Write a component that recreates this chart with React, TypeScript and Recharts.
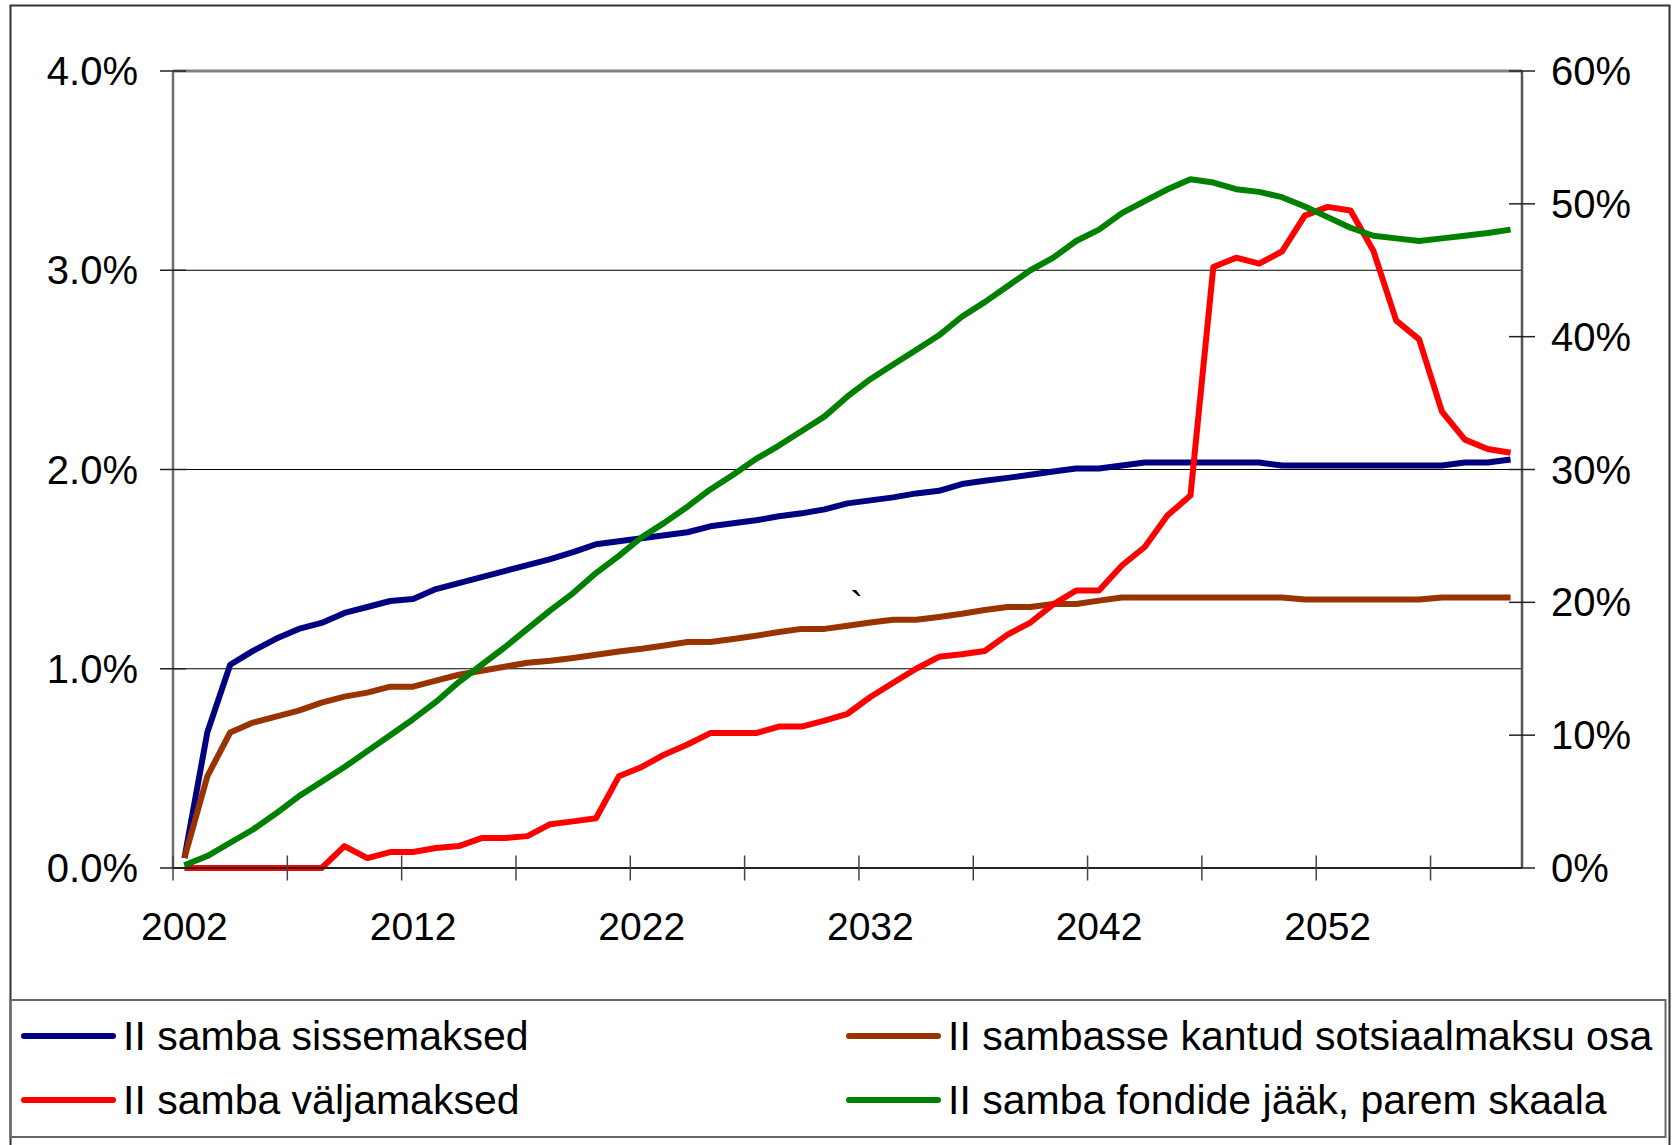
import React from 'react';
import { LineChart, Line, XAxis, YAxis, CartesianGrid, ReferenceLine } from 'recharts';

// years on the category axis
const years = [
  2002, 2003, 2004, 2005, 2006, 2007, 2008, 2009, 2010, 2011,
  2012, 2013, 2014, 2015, 2016, 2017, 2018, 2019, 2020, 2021,
  2022, 2023, 2024, 2025, 2026, 2027, 2028, 2029, 2030, 2031,
  2032, 2033, 2034, 2035, 2036, 2037, 2038, 2039, 2040, 2041,
  2042, 2043, 2044, 2045, 2046, 2047, 2048, 2049, 2050, 2051,
  2052, 2053, 2054, 2055, 2056, 2057, 2058, 2059, 2060,
];

// % of GDP, left scale
const sissemaksed = [
  0.05, 0.68, 1.02, 1.09, 1.15, 1.2, 1.23, 1.28, 1.31, 1.34,
  1.35, 1.4, 1.43, 1.46, 1.49, 1.52, 1.55, 1.585, 1.625, 1.64,
  1.655, 1.67, 1.685, 1.715, 1.73, 1.745, 1.765, 1.78, 1.8, 1.83,
  1.845, 1.86, 1.88, 1.893, 1.927, 1.944, 1.958, 1.974, 1.99, 2.005,
  2.005, 2.02, 2.035, 2.035, 2.035, 2.035, 2.035, 2.035, 2.02, 2.02,
  2.02, 2.02, 2.02, 2.02, 2.02, 2.02, 2.035, 2.035, 2.05,
];
const sotsiaalmaks = [
  0.05, 0.46, 0.68, 0.73, 0.76, 0.79, 0.83, 0.86, 0.88, 0.91,
  0.91, 0.94, 0.97, 0.99, 1.01, 1.03, 1.04, 1.054, 1.07, 1.087,
  1.1, 1.117, 1.134, 1.134, 1.149, 1.166, 1.184, 1.2, 1.2, 1.216,
  1.232, 1.246, 1.246, 1.26, 1.276, 1.295, 1.31, 1.31, 1.325, 1.325,
  1.342, 1.358, 1.358, 1.358, 1.358, 1.358, 1.358, 1.358, 1.358, 1.347,
  1.347, 1.347, 1.347, 1.347, 1.347, 1.358, 1.358, 1.358, 1.358,
];
const valjamaksed = [
  0, 0, 0, 0, 0, 0, 0, 0.11, 0.05, 0.08,
  0.08, 0.1, 0.11, 0.15, 0.15, 0.16, 0.22, 0.234, 0.25, 0.46,
  0.507, 0.57, 0.62, 0.677, 0.677, 0.677, 0.71, 0.71, 0.74, 0.774,
  0.858, 0.93, 1.0, 1.06, 1.073, 1.089, 1.171, 1.232, 1.323, 1.393,
  1.393, 1.518, 1.611, 1.77, 1.869, 3.016, 3.063, 3.033, 3.094, 3.274,
  3.318, 3.3, 3.098, 2.747, 2.653, 2.29, 2.15, 2.103, 2.084,
];
// right scale
const fondideJaak = [
  0.2, 0.9, 1.9, 2.9, 4.1, 5.4, 6.5, 7.6, 8.8, 10.0,
  11.2, 12.5, 14.0, 15.3, 16.6, 18.0, 19.4, 20.7, 22.2, 23.5,
  24.9, 26.0, 27.2, 28.5, 29.6, 30.8, 31.8, 32.9, 34.0, 35.5,
  36.8, 37.9, 39.0, 40.1, 41.5, 42.6, 43.8, 45.0, 45.95, 47.2,
  48.06, 49.3, 50.2, 51.1, 51.85, 51.6, 51.1, 50.9, 50.5, 49.8,
  49.0, 48.2, 47.6, 47.4, 47.2, 47.4, 47.6, 47.8, 48.06,
];

const yearLabels = [2002, 2012, 2022, 2032, 2042, 2052];
const yearTickMarks = [2001.5, 2006.5, 2011.5, 2016.5, 2021.5, 2026.5, 2031.5, 2036.5, 2041.5, 2046.5, 2051.5, 2056.5];
const leftTicks = [0, 1, 2, 3, 4];
const rightTicks = [0, 10, 20, 30, 40, 50, 60];

const series = [
  { key: 'sissemaksed', name: 'II samba sissemaksed', color: '#000080', axis: 'left' },
  { key: 'sotsiaalmaks', name: 'II sambasse kantud sotsiaalmaksu osa', color: '#993300', axis: 'left' },
  { key: 'valjamaksed', name: 'II samba väljamaksed', color: '#FF0000', axis: 'left' },
  { key: 'fondideJaak', name: 'II samba fondide jääk, parem skaala', color: '#008000', axis: 'right' },
];

const data = years.map((year, i) => ({
  year,
  sissemaksed: sissemaksed[i],
  sotsiaalmaks: sotsiaalmaks[i],
  valjamaksed: valjamaksed[i],
  fondideJaak: fondideJaak[i],
}));

const FONT = '"Liberation Sans", Arial, sans-serif';
const W = 1677;
const H = 1145;

// legend slots: line start x, line y
const legendSlots = [
  { x: 24, y: 1036 },
  { x: 849, y: 1036 },
  { x: 24, y: 1100 },
  { x: 849, y: 1100 },
];

const XTick = (props: any) => {
  const { x, y, payload } = props;
  const v = payload.value;
  if (yearLabels.includes(v)) {
    return (
      <text x={x} y={y + 72} textAnchor="middle" fontFamily={FONT} fontSize={39} fill="#000">
        {v}
      </text>
    );
  }
  return <line x1={x} x2={x} y1={y - 12.5} y2={y + 12.5} stroke="#444" strokeWidth={1.5} />;
};

const LeftTick = (props: any) => {
  const { x, y, payload } = props;
  return (
    <g>
      <line x1={x - 13} x2={x + 13} y1={y} y2={y} stroke="#222" strokeWidth={1.5} />
      <text x={x - 35} y={y + 14} textAnchor="end" fontFamily={FONT} fontSize={40} fill="#000">
        {payload.value.toFixed(1)}%
      </text>
    </g>
  );
};

const RightTick = (props: any) => {
  const { x, y, payload } = props;
  return (
    <g>
      <line x1={x - 13} x2={x + 13} y1={y} y2={y} stroke="#222" strokeWidth={1.5} />
      <text x={x + 29} y={y + 14} textAnchor="start" fontFamily={FONT} fontSize={40} fill="#000">
        {payload.value}%
      </text>
    </g>
  );
};

export default function App() {
  return (
    <div style={{ position: 'absolute', left: 0, top: 0, width: W, height: H, background: '#fff', overflow: 'hidden' }}>
      <LineChart width={W} height={H} data={data} margin={{ top: 71, right: 0, bottom: 0, left: 0 }}>
        <CartesianGrid yAxisId="left" horizontal vertical={false} stroke="#000" strokeWidth={1} />
        <XAxis
          dataKey="year"
          type="number"
          domain={[2001.5, 2060.5]}
          allowDataOverflow
          ticks={[...yearTickMarks, ...yearLabels].sort((a, b) => a - b)}
          interval={0}
          height={277}
          tickSize={0}
          tickMargin={0}
          tickLine={false}
          axisLine={{ stroke: '#222', strokeWidth: 2 }}
          tick={XTick}
        />
        <YAxis
          yAxisId="left"
          orientation="left"
          width={173}
          domain={[0, 4]}
          ticks={leftTicks}
          interval={0}
          tickSize={0}
          tickMargin={0}
          tickLine={false}
          axisLine={{ stroke: '#6e6e6e', strokeWidth: 2.5 }}
          tick={LeftTick}
        />
        <YAxis
          yAxisId="right"
          orientation="right"
          width={155}
          domain={[0, 60]}
          ticks={rightTicks}
          interval={0}
          tickSize={0}
          tickMargin={0}
          tickLine={false}
          axisLine={{ stroke: '#555', strokeWidth: 2.5 }}
          tick={RightTick}
        />
        <ReferenceLine yAxisId="left" y={4} stroke="#808080" strokeWidth={3} />
        {series.map((s) => (
          <Line
            key={s.key}
            yAxisId={s.axis}
            type="linear"
            dataKey={s.key}
            name={s.name}
            stroke={s.color}
            strokeWidth={6}
            strokeLinejoin="round"
            dot={false}
            activeDot={false}
            isAnimationActive={false}
          />
        ))}
      </LineChart>
      <svg width={W} height={H} style={{ position: 'absolute', left: 0, top: 0, pointerEvents: 'none' }}>
        <rect x={10.5} y={5.5} width={1659} height={1160} fill="none" stroke="#333" strokeWidth={2} />
        <rect x={10.5} y={1000} width={1655} height={137} fill="none" stroke="#666" strokeWidth={2} />
        {series.map((s, i) => (
          <g key={s.key}>
            <line
              x1={legendSlots[i].x}
              x2={legendSlots[i].x + 89}
              y1={legendSlots[i].y}
              y2={legendSlots[i].y}
              stroke={s.color}
              strokeWidth={6}
              strokeLinecap="round"
            />
            <text x={legendSlots[i].x + 99} y={legendSlots[i].y + 14} fontFamily={FONT} fontSize={41} fill="#000">
              {s.name}
            </text>
          </g>
        ))}
        <text x={850} y={619} fontFamily={FONT} fontSize={39} fill="#000">`</text>
      </svg>
    </div>
  );
}
